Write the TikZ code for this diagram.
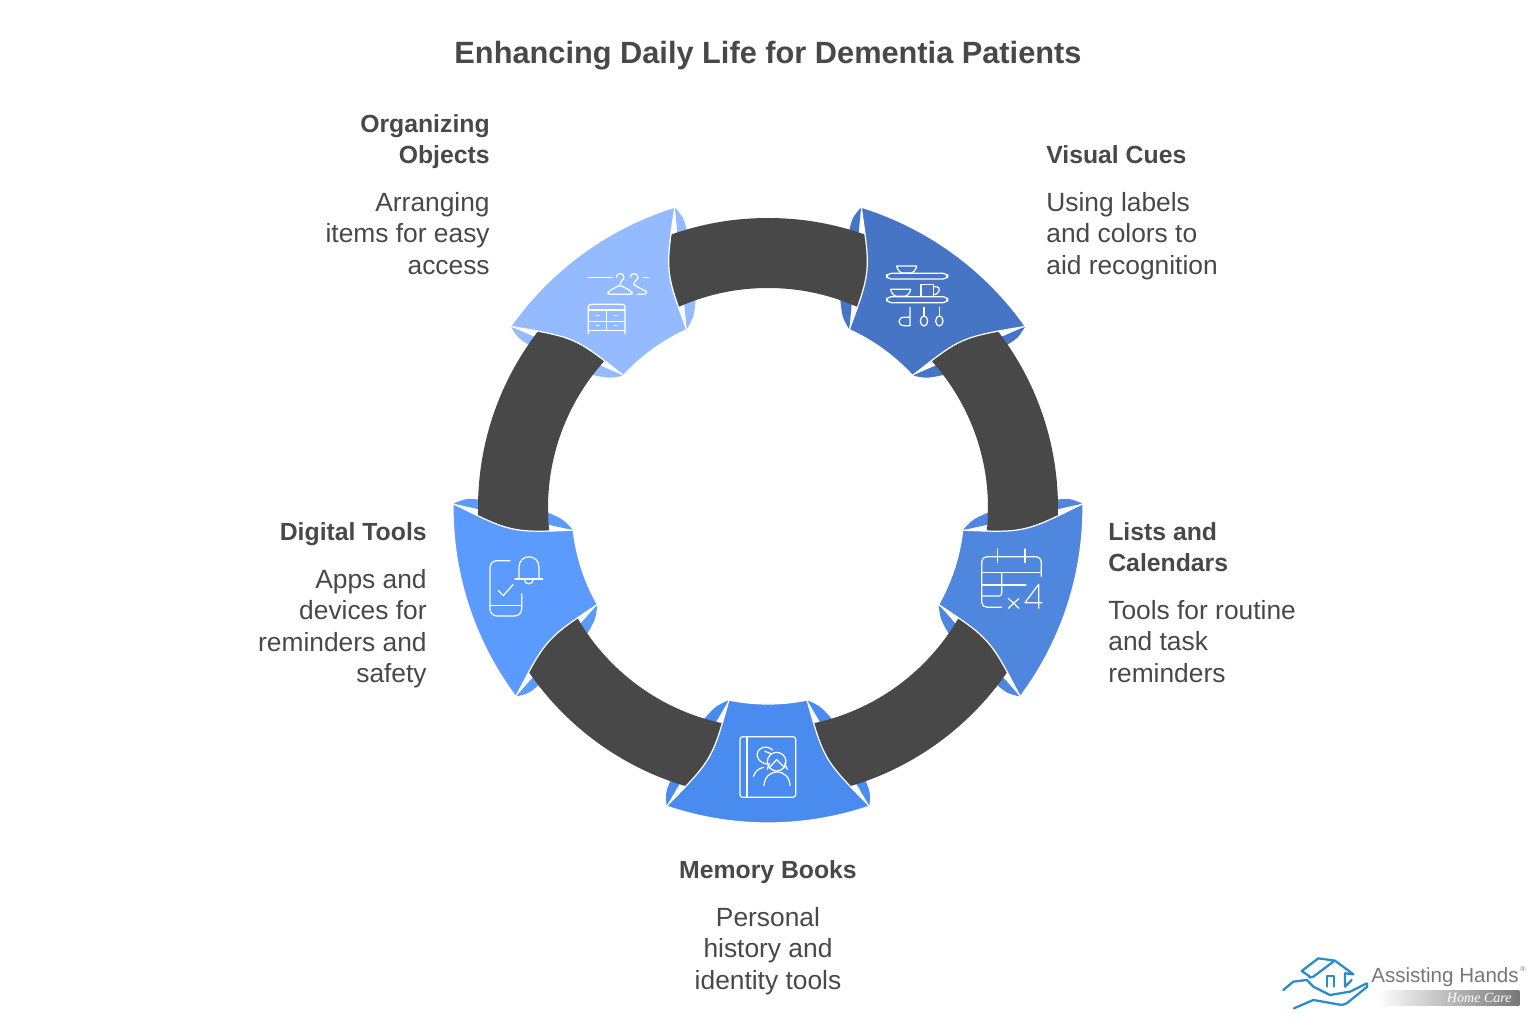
\documentclass[tikz,border=0pt]{standalone}
\usepackage{fontspec}
\setmainfont{Liberation Sans}
\newfontfamily\logoserif{Liberation Serif}
\definecolor{textdark}{HTML}{484848}
\definecolor{ringdark}{HTML}{484848}
\definecolor{orgblue}{HTML}{94BBFF}
\definecolor{visualblue}{HTML}{4575C4}
\definecolor{listblue}{HTML}{4F86DE}
\definecolor{memoryblue}{HTML}{4A8BF0}
\definecolor{digitalblue}{HTML}{5B9BFF}
\definecolor{logoblue}{HTML}{2A8CC8}
\definecolor{logogray}{HTML}{777777}
\newcommand {\wings}[2] {\begin{scope}[rotate=#1]
        \foreach \s in {1,-1} {
            \fill[#2, xscale=\s] (71.2:315) .. controls (70.2:302) .. (70.3:291) -- (73.2:220) .. controls (75.2:205) .. (78.5:196) -- cycle;
        }
    \end{scope}}
\newcommand {\segment}[2] {\begin{scope}[rotate=#1]
        \filldraw[#2, draw=white, line width=0.7pt, line join=miter] (108.8:315) arc (108.8:71.2:315) .. controls (77.5:257.7) .. (78.5:196) arc (78.5:101.5:196) .. controls (102.5:257.7) .. (108.8:315) -- cycle;
    \end{scope}}
\newcommand {\entry}[8] {\node[headtext, anchor=north #2, align=#3] (#1head) at (#4,{#5+17}) {#7};
                         \node[bodytext, anchor=north #2, align=#3] (#1body) at (#4,{#6+18}) {#8};}
\tikzset{
    headtext/.style={font=\fontsize{14.1}{17.87}\selectfont\bfseries, text=textdark, inner sep=0pt, execute at begin node=\strut},
    bodytext/.style={font=\fontsize{15}{17.87}\selectfont, text=textdark, inner sep=0pt, execute at begin node=\strut},
    iconat/.style 2 args={shift={(#1-768,508-#2)}, x=0.00667cm, y=-0.00667cm, draw=white, line width=0.7pt, line cap=round, line join=round},
}
\begin{document}
\begin{tikzpicture}[x=0.02cm, y=0.02cm]
    \useasboundingbox (-768,-516) rectangle (768,508);
    \node[font=\fontsize{17.5}{20}\selectfont\bfseries, text=textdark, inner sep=0pt, anchor=base] (title) at (0,444) {Enhancing Daily Life for Dementia Patients};
    \wings{36}{orgblue};
    \wings{-36}{visualblue};
    \wings{-108}{listblue};
    \wings{180}{memoryblue};
    \wings{108}{digitalblue};
    \fill[ringdark, even odd rule] (0,0) circle (290) (0,0) circle (220);
    \segment{36}{orgblue};
    \segment{-36}{visualblue};
    \segment{-108}{listblue};
    \segment{180}{memoryblue};
    \segment{108}{digitalblue};
    \begin{scope}[iconat={490}{190}]
        \draw (293,262) -- (367,262);
        \draw (460,262) -- (477,262);
        \draw (379,262) .. controls (379,247) and (402,247) .. (402,262) .. controls (402,272) and (390,270) .. (390,285);
        \draw[rounded corners=1.5pt] (390,285) -- (354,305) -- (354,313) -- (426,313) -- (426,305) -- cycle;
        \draw (421,262) .. controls (421,247) and (444,247) .. (444,262) .. controls (444,272) and (432,270) .. (432,285) -- (470,305);
        \draw[rounded corners=1.5pt] (470,305) -- (470,313) -- (443,313);
        \draw[rounded corners=1.5pt] (295,432) -- (295,343) -- (405,343) -- (405,432);
        \draw (295,360) -- (405,360);
        \draw (295,395) -- (405,395);
        \draw (295,422) -- (405,422);
        \draw (350,360) -- (350,422);
        \foreach \hx/\hy in {323/376, 377/376, 323/407, 377/407} {
            \draw (\hx-4,\hy) -- (\hx+4,\hy);
        }
    \end{scope}
    \begin{scope}[iconat={820}{190}]
        \draw[rounded corners=2.5pt] (200,250) rectangle (383,267);
        \draw (230,228) -- (290,228) .. controls (288,240) and (280,248) .. (272,249) -- (248,249) .. controls (240,248) and (232,240) .. cycle;
        \draw[rounded corners=2.5pt] (200,320) rectangle (383,338);
        \draw (212,298) -- (272,298) .. controls (270,310) and (262,318) .. (254,319) -- (230,319) .. controls (222,318) and (214,310) .. cycle;
        \draw (303,319) -- (303,283) -- (340,283) -- (340,319);
        \draw (340,290) -- (350,290) .. controls (362,290) and (362,313) .. (340,314);
        \draw (270,352) -- (270,407) -- (252,407) .. controls (232,407) and (232,382) .. (252,382) -- (270,382);
        \draw (312,352) -- (312,378);
        \draw (312,393) circle [x radius=11, y radius=15];
        \draw (358,352) -- (358,378);
        \draw (358,393) circle [x radius=11, y radius=15];
    \end{scope}
    \begin{scope}[iconat={920}{490}]
        \draw[rounded corners=3pt] (245,352) -- (185,352) -- (185,200) -- (364,200) -- (364,260);
        \draw (233,177) -- (233,218);
        \draw (315,177) -- (315,218);
        \draw (185,247) -- (364,247);
        \draw (185,285) -- (318,285);
        \draw[rounded corners=1.5pt] (245,250) -- (245,318) -- (185,318);
        \draw (265,325) -- (297,355);
        \draw (297,325) -- (265,355);
        \draw (356,355) -- (356,283) -- (315,338) -- (366,338);
    \end{scope}
    \begin{scope}[iconat={650}{690}]
        \draw[rounded corners=1.5pt] (270,140) rectangle (437,322);
        \draw (291,140) -- (291,322);
        \draw (380,215) circle (28);
        \draw (358,233) -- (380,209) -- (404,233);
        \draw (352,238) -- (358,220);
        \draw (412,238) -- (404,220);
        \draw (342,287) .. controls (345,232) and (418,232) .. (420,287);
        \draw (368,180) .. controls (345,160) and (318,178) .. (322,198) .. controls (324,212) and (338,220) .. (350,222);
        \draw (345,184) -- (365,192);
        \draw (310,260) .. controls (315,245) and (325,236) .. (340,232);
    \end{scope}
    \begin{scope}[iconat={440}{490}]
        \draw[rounded corners=4pt] (210,212) -- (150,212) -- (150,378) -- (245,378) -- (245,312);
        \draw (150,347) -- (245,347);
        \draw (175,302) -- (190,317) -- (220,283);
        \draw (225,267) -- (308,267);
        \draw (237,267) -- (237,232) .. controls (237,190) and (297,190) .. (297,232) -- (297,267);
        \draw (253,268) .. controls (253,286) and (280,286) .. (280,268);
    \end{scope}
    \entry{org}{east}{right}{-278}{377}{298}{Organizing\\Objects}{Arranging\\items for easy\\access};
    \entry{visual}{west}{left}{278}{350}{298}{Visual Cues}{Using labels\\and colors to\\aid recognition};
    \entry{digital}{east}{right}{-341}{-27}{-79}{Digital Tools}{Apps and\\devices for\\reminders and\\safety};
    \entry{list}{west}{left}{340}{-31}{-110}{Lists and\\Calendars}{Tools for routine\\and task\\reminders};
    \entry{memory}{}{center}{0}{-365}{-417}{Memory Books}{Personal\\history and\\identity tools};
    \begin{scope}[iconat={1270}{945}]
        \shade[left color=white, right color=logogray] (320,137) rectangle (748,183);
        \draw[logoblue, line width=1.3pt] (120,95) -- (95,78) -- (145,40) -- (195,47) -- (250,88) -- (225,85);
        \draw[logoblue, line width=1.3pt] (190,50) -- (130,95) -- (118,98);
        \draw[logoblue, line width=1.3pt] (172,125) -- (172,92) -- (192,92) -- (192,125);
        \draw[logoblue, line width=1.3pt] (225,85) -- (225,125) -- (245,105);
        \draw[logoblue, line width=1.3pt] (40,135) -- (70,110) -- (110,105) -- (130,125) -- (180,150) -- (240,140) -- (290,115) -- (292,125) -- (230,175) -- (215,180) -- (130,165) -- (72,190);
    \end{scope}
    \node[font=\fontsize{11.7}{14}\selectfont, text=logogray, inner sep=0pt, anchor=base west] (logoname) at (603,-475) {Assisting Hands};
    \node[font=\fontsize{4}{5}\selectfont, text=logogray, inner sep=0pt, anchor=base west] (logomark) at (752,-464) {®};
    \node[font=\logoserif\fontsize{8}{9}\selectfont\itshape, text=white, inner sep=0pt, anchor=base east] (logocare) at (744,-495) {Home Care};
\end{tikzpicture}
\end{document}
